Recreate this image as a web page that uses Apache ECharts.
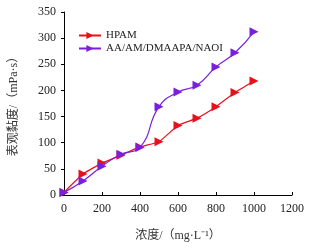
<!DOCTYPE html>
<html>
<head>
<meta charset="utf-8">
<script src="https://cdn.jsdelivr.net/npm/echarts@6/dist/echarts.min.js"></script>
<style>
  html, body { margin: 0; padding: 0; background: #fff; }
  #chart { width: 320px; height: 249px; }
</style>
</head>
<body>
<div id="chart"></div>
<script>
// concentration, mg/L
var concentration = [0, 100, 200, 300, 400, 500, 600, 700, 800, 900, 1000]
var hpam = [5, 40, 61, 76, 92, 102, 133, 147, 169, 196, 218]
var copolymer = [5, 27, 55, 78, 91, 169, 197, 210, 245, 272, 312]
var seriesNames = ['HPAM', 'AA/AM/DMAAPA/NAOI']

var font = "'Liberation Serif', 'Noto Sans CJK SC', serif"

function pairs(ys) {
  return concentration.map(function(x, i) { return [x, ys[i]] })
}

var chart = echarts.init(document.getElementById('chart'))
chart.setOption({
  animation: false,
  textStyle: { fontFamily: font },
  grid: {
    left: 61,
    right: 28,
    top: 12,
    bottom: 54
  },
  legend: {
    orient: 'vertical',
    left: 73,
    top: 25,
    itemWidth: 22,
    itemHeight: 9,
    itemGap: 2,
    textStyle: { fontFamily: font, fontSize: 11, color: '#222' },
    data: seriesNames
  },
  xAxis: {
    type: 'value',
    min: 0,
    max: 1200,
    interval: 200,
    name: '浓度/（mg·L⁻¹）',
    nameLocation: 'middle',
    nameGap: 35,
    nameTextStyle: { fontFamily: font, fontSize: 12, color: '#333' },
    axisLine: { lineStyle: { color: '#000', width: 1 } },
    axisTick: { inside: true, length: 3, lineStyle: { color: '#000' } },
    axisLabel: {
      fontFamily: font, fontSize: 12, color: '#222', margin: 8,
      formatter: function(v) { return String(v) }
    },
    splitLine: { show: false }
  },
  yAxis: {
    type: 'value',
    min: 0,
    max: 350,
    interval: 50,
    name: '表观黏度/（mPa·s）',
    nameLocation: 'middle',
    nameGap: 44,
    nameTextStyle: { fontFamily: font, fontSize: 12, color: '#333' },
    axisLine: { show: true, lineStyle: { color: '#000', width: 1 } },
    axisTick: { show: true, length: 3, lineStyle: { color: '#000' } },
    axisLabel: { fontFamily: font, fontSize: 12, color: '#222', margin: 8 },
    splitLine: { show: false }
  },
  series: [
    {
      name: seriesNames[0],
      type: 'line',
      data: pairs(hpam),
      smooth: 0.15,
      symbol: 'triangle',
      symbolRotate: -90,
      symbolSize: 9,
      itemStyle: { color: '#e8101c' },
      lineStyle: { color: '#e8101c', width: 1.2 }
    },
    {
      name: seriesNames[1],
      type: 'line',
      data: pairs(copolymer),
      smooth: 0.5,
      symbol: 'triangle',
      symbolRotate: -90,
      symbolSize: 9,
      itemStyle: { color: '#7a1fe0' },
      lineStyle: { color: '#7a1fe0', width: 1.2 }
    }
  ]
})
</script>
</body>
</html>
